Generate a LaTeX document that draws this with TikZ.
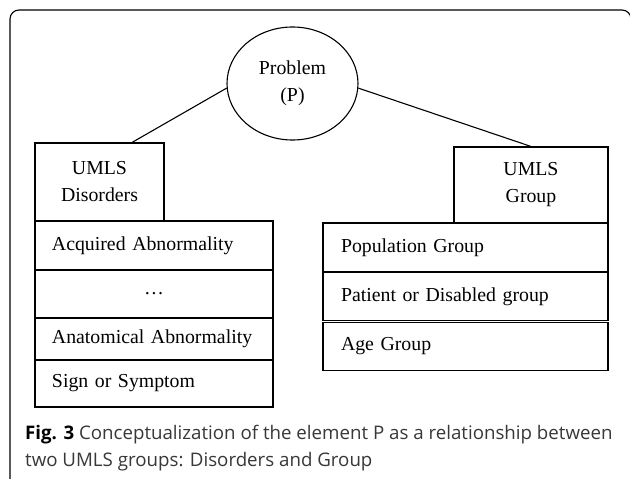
\documentclass[tikz,border=0pt]{standalone}
\usepackage{fontspec}
\setmainfont{Liberation Serif}
\newfontfamily\capfont{Open Sans}
\usetikzlibrary{shapes.geometric,calc}
\tikzset{
  ln/.style={line width=1.1pt, black},
  serif/.style={font=\fontsize{19.8}{27}\selectfont},
  hdrbox/.style={ln, draw, rectangle, serif, align=center, inner sep=0pt},
  itembox/.style={ln, draw, rectangle, serif, align=left, inner ysep=0pt, anchor=center},
  captxt/.style={anchor=base west, inner sep=0pt, font=\capfont\fontsize{18.7}{27}\selectfont, text=black!78},
}
\begin{document}
\begin{tikzpicture}[x=1pt, y=-1pt]
  \useasboundingbox (0,0) rectangle (630,479);
  \clip (0,0) rectangle (630,479);
  \fill[white] (0,0) rectangle (630,479);

  % outer frame of the figure panel
  \draw[line width=1.1pt, rounded corners=9pt] (10,490) -- (10,10) -- (631,10) -- (631,490);

  % central concept
  \node[ln, draw, ellipse, serif, align=center, minimum width=131pt, minimum height=113pt, inner sep=0pt]
    (prob) at (292.5,83.5) {Problem\\(P)};

  % left group header and its members
  \node[hdrbox, minimum width=129pt, minimum height=78pt] (dis) at (99.5,182) {UMLS\\Disorders};
  \node[itembox, text width=204pt, inner xsep=17pt, minimum height=49pt] (d1) at (154,245.5) {Acquired Abnormality};
  \node[itembox, text width=204pt, inner xsep=17pt, minimum height=48pt, align=center] (d2) at (154,294) {\dots};
  \node[itembox, text width=204pt, inner xsep=17pt, minimum height=42pt] (d3) at (154,339) {Anatomical Abnormality};
  \node[itembox, text width=204pt, inner xsep=17pt, minimum height=47pt] (d4) at (154,383.5) {Sign or Symptom};

  % right group header and its members
  \node[hdrbox, minimum width=154pt, minimum height=76pt] (grp) at (531,185) {UMLS\\Group};
  \node[itembox, text width=249pt, inner xsep=18pt, minimum height=49pt] (g1) at (465.5,247.5) {Population Group};
  \node[itembox, text width=249pt, inner xsep=18pt, minimum height=48pt] (g2) at (465.5,296.5) {Patient or Disabled group};
  \node[itembox, text width=249pt, inner xsep=18pt, minimum height=48pt] (g3) at (465.5,346.5) {Age Group};

  % connectors from the concept to the two groups
  \coordinate (dtop) at ($(dis.north west)!0.75!(dis.north east)$);
  \draw[ln] (prob.184) -- (dtop);
  \draw[ln] (prob.356) -- (grp.north);

  % caption
  \node[captxt] (cap1) at (25,439)
    {\textcolor{black}{\bfseries Fig. 3} Conceptualization of the element P as a relationship between};
  \node[captxt] (cap2) at (25,466)
    {two UMLS groups: Disorders and Group};
\end{tikzpicture}
\end{document}
